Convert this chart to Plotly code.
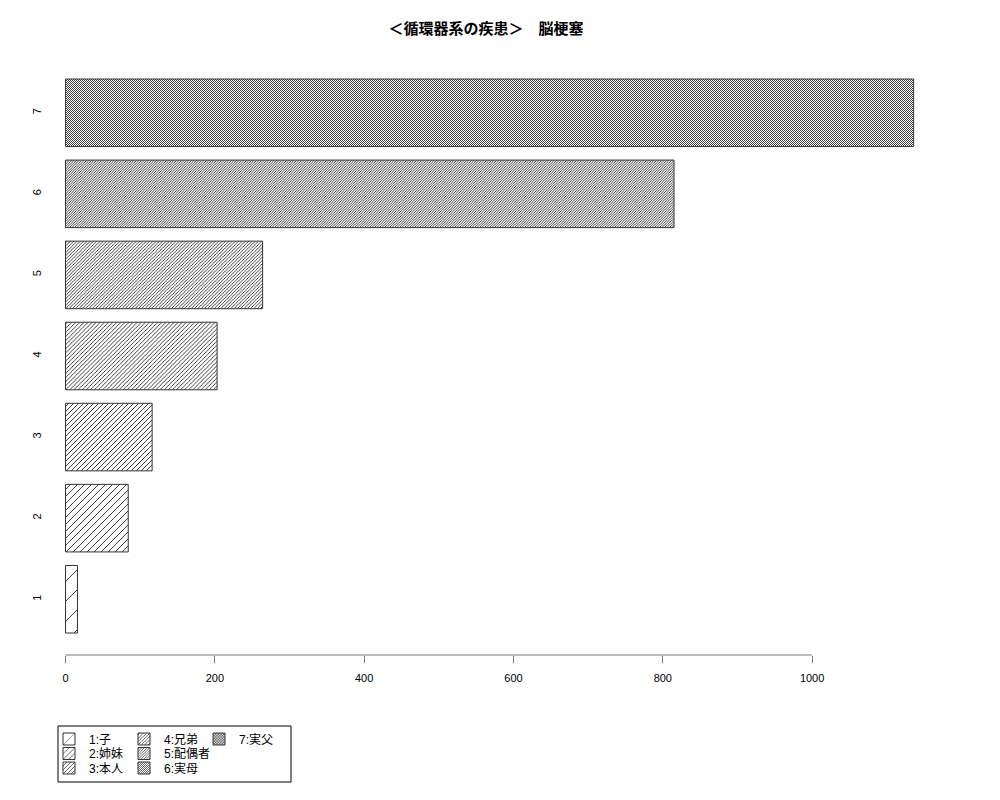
import math
import plotly.graph_objects as go

# data
categories = ["1", "2", "3", "4", "5", "6", "7"]
values = [16, 84, 116, 203, 264, 815, 1136]
legend_names = ["1:子", "2:姉妹", "3:本人", "4:兄弟", "5:配偶者", "6:実母", "7:実父"]
x_ticks = [0, 200, 400, 600, 800, 1000]

# horizontal hatch spacing per bar in px (denser as it goes up)
hatch_px = [20, 7, 5, 4.1, 3.3, 2.5, 2]
# legend rows (R fills the legend column by column)
legend_ids = ["legend", "legend2", "legend3", "legend", "legend2", "legend3", "legend"]

# page body has an 8px margin, so shift everything back by that
OFF = 8

fig = go.Figure()

for i, cat in enumerate(categories):
    size = hatch_px[i] / math.sqrt(2)
    fig.add_trace(go.Bar(
        x=[values[i]],
        y=[cat],
        orientation="h",
        name=legend_names[i],
        width=1 / 1.2,
        legend=legend_ids[i],
        marker=dict(
            color="white",
            line=dict(color="#333333", width=1),
            pattern=dict(shape="/", size=size, solidity=min(0.75 / size, 0.6),
                         fgcolor="black", bgcolor="white", fillmode="replace")
        )
    ))

# blank entries so the short legend rows are not clipped
for lg in ["legend2", "legend3"]:
    fig.add_trace(go.Bar(
        x=[None], y=[categories[0]], orientation="h", name=" ", legend=lg,
        hoverinfo="skip",
        marker=dict(color="rgba(0,0,0,0)", line=dict(width=0))
    ))

fnt = "Liberation Sans, Noto Sans CJK JP, sans-serif"

legend_style = dict(xref="container", yref="container", yanchor="middle", xanchor="left",
                    orientation="h", entrywidth=30, entrywidthmode="pixels",
                    bgcolor="rgba(0,0,0,0)", font=dict(family=fnt, size=12, color="black"),
                    itemwidth=30, traceorder="normal")

fig.update_layout(
    width=1000, height=800,
    paper_bgcolor="white", plot_bgcolor="white",
    margin=dict(l=50 - OFF, r=52 + OFF, t=57 - OFF, b=145 + OFF, autoexpand=False),
    barmode="overlay",
    title=dict(text="<b>＜循環器系の疾患＞　脳梗塞</b>", x=(486 - OFF) / 1000, xref="container",
               xanchor="center", y=1 - (29 - OFF) / 800, yref="container", yanchor="middle",
               font=dict(family=fnt, size=15, color="black")),
    xaxis=dict(range=[-20.8, 1182], tickvals=x_ticks, ticks="outside", ticklen=7,
               tickcolor="#777777", showline=False, showgrid=False, zeroline=False,
               ticklabelstandoff=6, tickfont=dict(family=fnt, size=11, color="black")),
    yaxis=dict(range=[-0.688, 6.688], type="category", categoryorder="array",
               categoryarray=categories, tickangle=-90, ticks="", showline=False,
               showgrid=False, zeroline=False, ticklabelstandoff=6,
               tickfont=dict(family=fnt, size=11, color="black")),
    showlegend=True,
    legend=dict(x=(49 - OFF) / 1000, y=1 - (739 - OFF) / 800, **legend_style),
    legend2=dict(x=(49 - OFF) / 1000, y=1 - (753.5 - OFF) / 800, **legend_style),
    legend3=dict(x=(49 - OFF) / 1000, y=1 - (768 - OFF) / 800, **legend_style),
    shapes=[
        # axis line only from 0 to 1000 like R does
        dict(type="line", xref="x", yref="paper", x0=0, x1=1000, y0=0, y1=0,
             line=dict(color="#777777", width=1)),
        # legend box
        dict(type="rect", xref="paper", yref="paper",
             x0=(58 - 50) / 898, x1=(291 - 50) / 898,
             y0=-(782 - 655) / 598, y1=-(726 - 655) / 598,
             line=dict(color="black", width=1)),
    ],
)

fig.write_html("out.html")
